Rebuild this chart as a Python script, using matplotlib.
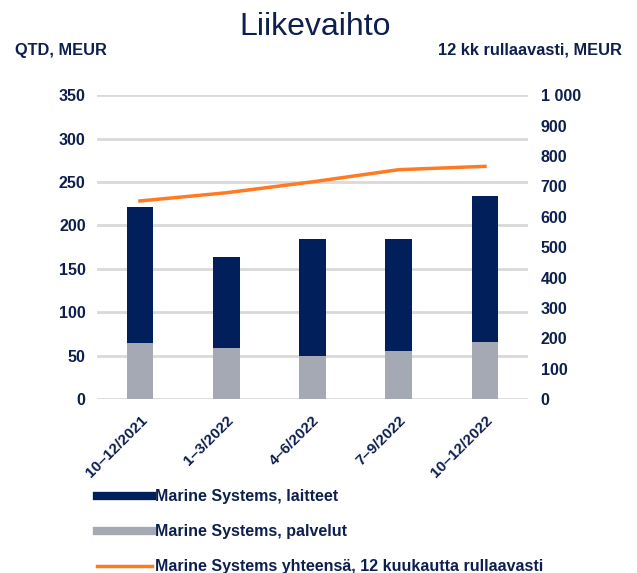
import matplotlib
matplotlib.use("Agg")
import matplotlib.pyplot as plt
from matplotlib.lines import Line2D
import numpy as np

plt.rcParams['font.family'] = ['Liberation Sans', 'DejaVu Sans']

categories = ["10–12/2021", "1–3/2022", "4–6/2022", "7–9/2022", "10–12/2022"]
services = [65, 59, 49, 55, 66]          # Marine Systems, palvelut
equipment = [156, 105, 135, 129, 168]    # Marine Systems, laitteet
rolling12 = [652, 679, 715, 755, 766]    # 12 kk rullaavasti
left_ticks = [0, 50, 100, 150, 200, 250, 300, 350]
right_ticks = [0, 100, 200, 300, 400, 500, 600, 700, 800, 900, 1000]
right_labels = ["0", "100", "200", "300", "400", "500", "600", "700", "800", "900", "1 000"]

navy = "#001F5B"
gray = "#A5A9B4"
orange = "#FF7A21"
txt = "#0D1F4F"

fig = plt.figure(figsize=(6.37, 5.73), dpi=100)
ax = fig.add_axes([0.152, 0.3037, 0.677, 0.530])
x = np.arange(len(categories))
w = 0.31
ax.bar(x, services, w, color=gray, zorder=3)
ax.bar(x, equipment, w, bottom=services, color=navy, zorder=3)
ax.set_xlim(-0.5, len(categories) - 0.5)
ax.set_ylim(0, 350)
ax.set_yticks(left_ticks)
for t in left_ticks:
    ax.axhline(t, color="#D9D9D9", lw=2, zorder=1)
for s in ax.spines.values():
    s.set_visible(False)
ax.tick_params(axis='y', length=0, pad=8, labelsize=11.5, labelcolor=txt)
ax.tick_params(axis='x', length=0, pad=10, labelsize=11, labelcolor=txt)
for lab in ax.get_yticklabels():
    lab.set_fontweight('bold')
ax.set_xticks(x)
ax.set_xticklabels(categories, rotation=45, ha='right', rotation_mode='anchor', fontweight='bold')

ax2 = ax.twinx()
ax2.plot(x, rolling12, color=orange, lw=2.5, zorder=4)
ax2.set_ylim(0, 1000)
ax2.set_yticks(right_ticks)
ax2.set_yticklabels(right_labels, fontweight='bold')
ax2.tick_params(axis='y', length=0, pad=9, labelsize=11.5, labelcolor=txt)
for s in ax2.spines.values():
    s.set_visible(False)

fig.text(0.495, 1 - 35 / 573, "Liikevaihto", ha='center', va='baseline', fontsize=23, color=txt)
fig.text(0.024, 0.912, "QTD, MEUR", ha='left', va='center', fontsize=11.8, fontweight='bold', color=txt)
fig.text(0.977, 0.912, "12 kk rullaavasti, MEUR", ha='right', va='center', fontsize=11.8, fontweight='bold', color=txt)

handles = [Line2D([], [], color=navy, lw=6),
           Line2D([], [], color=gray, lw=6),
           Line2D([], [], color=orange, lw=2.5)]
labels = ["Marine Systems, laitteet", "Marine Systems, palvelut",
          "Marine Systems yhteensä, 12 kuukautta rullaavasti"]
leg = fig.legend(handles, labels, loc='upper left', bbox_to_anchor=(0.142, 0.157),
                 frameon=False, handlelength=3.44, handletextpad=0.2, labelspacing=1.25,
                 prop={'weight': 'bold', 'size': 11.5}, borderaxespad=0)
for t in leg.get_texts():
    t.set_color(txt)

fig.savefig("out.png", dpi=100)
